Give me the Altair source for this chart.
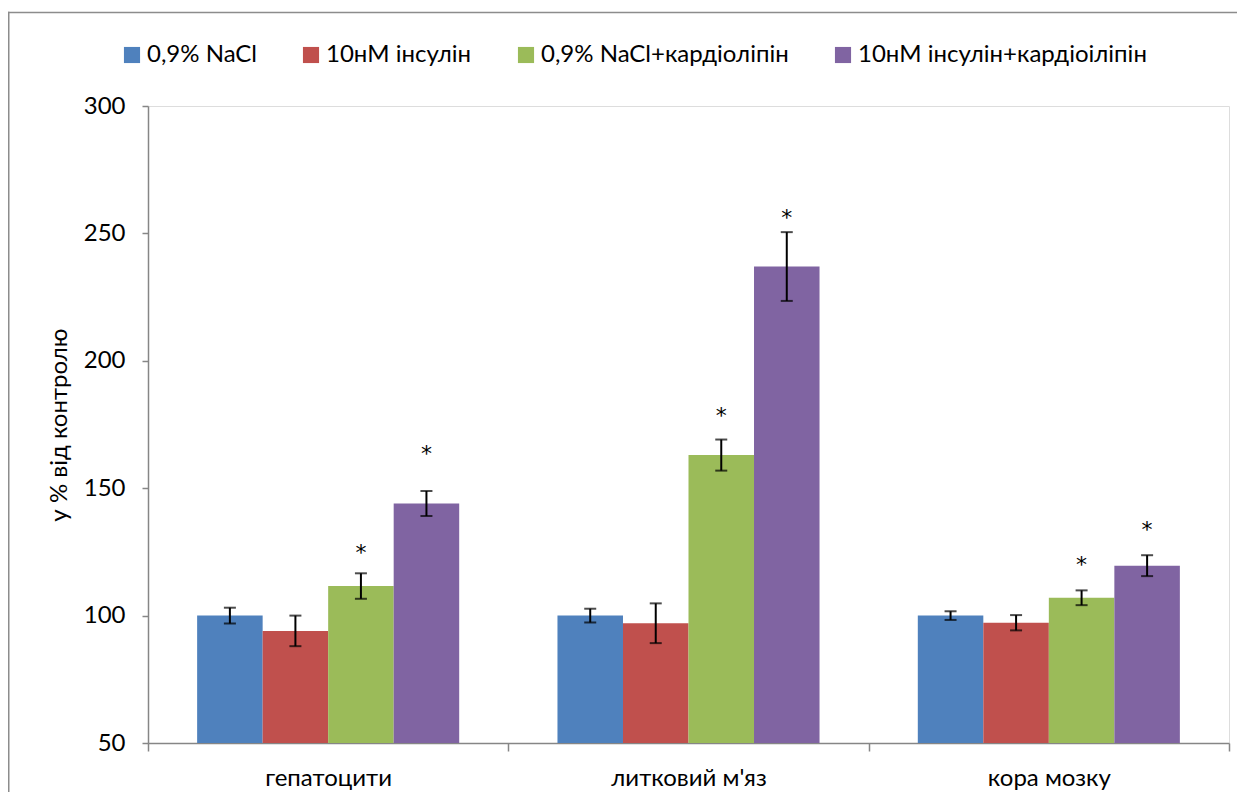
import altair as alt
import pandas as pd

# ---- data ----
categories = ["гепатоцити", "литковий м'яз", "кора мозку"]
series = ["0,9% NaCl", "10нМ інсулін", "0,9% NaCl+кардіолiпін", "10нМ інсулін+кардіоілiпін"]
colors = ["#4F81BD", "#C0504D", "#9BBB59", "#8064A2"]

values = {
    "0,9% NaCl":                 [100.0, 100.0, 100.0],
    "10нМ інсулін":              [94.0, 97.0, 97.2],
    "0,9% NaCl+кардіолiпін":     [111.6, 163.0, 107.0],
    "10нМ інсулін+кардіоілiпін": [144.0, 237.0, 119.6],
}
errors = {
    "0,9% NaCl":                 [3.1, 2.7, 1.7],
    "10нМ інсулін":              [6.0, 7.8, 3.0],
    "0,9% NaCl+кардіолiпін":     [5.0, 6.1, 2.9],
    "10нМ інсулін+кардіоілiпін": [4.9, 13.5, 4.1],
}
# height (in axis units) of the significance asterisks, None = none
star_heights = {
    "0,9% NaCl":                 [None, None, None],
    "10нМ інсулін":              [None, None, None],
    "0,9% NaCl+кардіолiпін":     [127.0, 180.7, 122.2],
    "10нМ інсулін+кардіоілiпін": [165.7, 258.4, 136.0],
}
y_ticks = [50, 100, 150, 200, 250, 300]
y_title = "у % від контролю"

rows = []
for s in series:
    for i, c in enumerate(categories):
        v = values[s][i]
        e = errors[s][i]
        rows.append({
            "cat": c, "series": s, "value": v,
            "lo": v - e, "hi": v + e,
            "star": star_heights[s][i],
            "mark": "*" if star_heights[s][i] is not None else "",
        })
df = pd.DataFrame(rows)

FONT = "Lato, 'Open Sans', sans-serif"
AXIS_GREY = "#868686"

x_enc = alt.X("cat:N", sort=categories,
              scale=alt.Scale(paddingInner=0, paddingOuter=0),
              axis=alt.Axis(title=None, tickBand="extent", labelAngle=0,
                            labelFontSize=24, labelColor="black", labelFont=FONT,
                            labelPadding=15, tickSize=8, tickColor=AXIS_GREY,
                            domainColor=AXIS_GREY, domainWidth=1.5, tickWidth=1.5))
xoff = alt.XOffset("series:N", sort=series,
                   scale=alt.Scale(paddingInner=0, paddingOuter=0.75))
y_scale = alt.Scale(domain=[50, 300], nice=False, zero=False)

base = alt.Chart(df)

bars = base.mark_bar().encode(
    x=x_enc,
    xOffset=xoff,
    y=alt.Y("value:Q", scale=y_scale,
            axis=alt.Axis(values=y_ticks, title=y_title, grid=False,
                          labelFontSize=24, labelColor="black", labelFont=FONT,
                          labelPadding=17, tickSize=6, tickColor=AXIS_GREY,
                          domainColor=AXIS_GREY, domainWidth=1.5, tickWidth=1.5,
                          titleFontSize=24, titleFontWeight="normal",
                          titleColor="black", titleFont=FONT, titlePadding=12)),
    y2=alt.datum(50),
    color=alt.Color("series:N", sort=series,
                    scale=alt.Scale(domain=series, range=colors),
                    legend=alt.Legend(title=None, orient="none", direction="horizontal",
                                      legendX=-28, legendY=-63, padding=0,
                                      symbolType="square", symbolSize=260,
                                      symbolStrokeWidth=0, labelFontSize=24,
                                      labelFont=FONT, labelColor="black",
                                      labelFontWeight="normal",
                                      labelOffset=3, columnPadding=42,
                                      labelLimit=0)),
)

err_rule = base.mark_rule(color="black", strokeWidth=2).encode(
    x=alt.X("cat:N", sort=categories), xOffset=xoff,
    y=alt.Y("lo:Q", scale=y_scale), y2="hi:Q",
)
cap_lo = base.mark_tick(color="black", thickness=2, size=12, orient="horizontal").encode(
    x=alt.X("cat:N", sort=categories), xOffset=xoff,
    y=alt.Y("lo:Q", scale=y_scale),
)
cap_hi = base.mark_tick(color="black", thickness=2, size=12, orient="horizontal").encode(
    x=alt.X("cat:N", sort=categories), xOffset=xoff,
    y=alt.Y("hi:Q", scale=y_scale),
)
stars = base.transform_filter("datum.mark != ''").mark_text(
    fontSize=22, font="DejaVu Sans", color="black", baseline="alphabetic", dy=13
).encode(
    x=alt.X("cat:N", sort=categories), xOffset=xoff,
    y=alt.Y("star:Q", scale=y_scale),
    text="mark:N",
)

# outer chart frame (decoration): thin filled strips along the top and left
one = pd.DataFrame({"f": [0]})
frame_top = alt.Chart(one).mark_rect(color="#8c8c8c", strokeWidth=0).encode(
    x=alt.value(-140), x2=alt.value(1089), y=alt.value(-94.25), y2=alt.value(-92.75),
)
frame_left = alt.Chart(one).mark_rect(color="#8c8c8c", strokeWidth=0).encode(
    x=alt.value(-140), x2=alt.value(-138.5), y=alt.value(-94.25), y2=alt.value(686),
)

chart = alt.layer(frame_top, frame_left, bars, err_rule, cap_lo, cap_hi, stars).properties(
    width=1081, height=637,
    padding={"left": 140, "top": 98, "right": 8, "bottom": 50},
    autosize=alt.AutoSizeParams(type="none"),
).configure_view(strokeWidth=0).configure(font=FONT)

chart.save("out.html", embed_options={"renderer": "svg", "actions": False})
